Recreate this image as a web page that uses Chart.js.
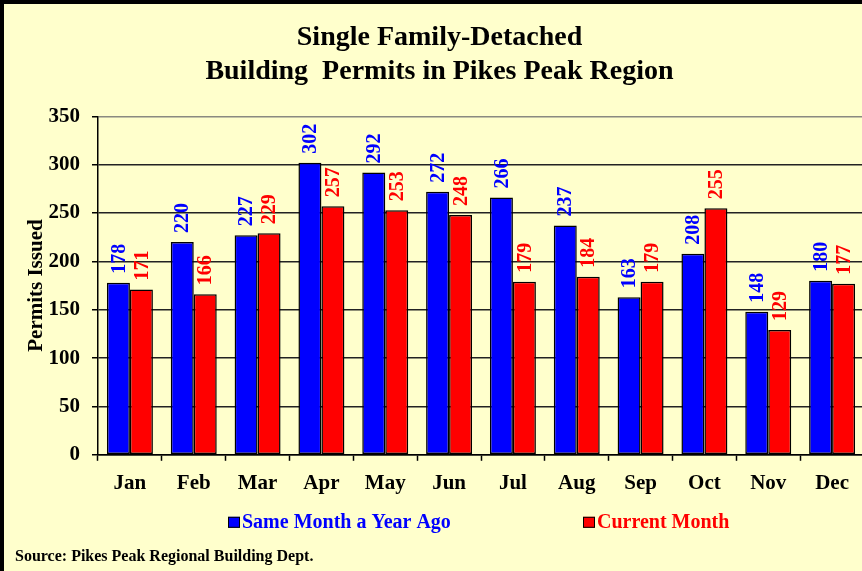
<!DOCTYPE html>
<html>
<head>
  <title>Single Family-Detached Building Permits</title>
  <script src="https://cdn.jsdelivr.net/npm/chart.js"></script>
  <style>
    body { margin: 0; overflow: hidden; background: #FFFFCC; }
    #frame { position: absolute; left: 0; top: 0; width: 876px; height: 580px; border: 4px solid #000; background: #FFFFCC; }
  </style>
</head>
<body>
  <div id="frame">
    <canvas id="permitChart" width="876" height="580"></canvas>
  </div>

  <script>
    const months = ["Jan", "Feb", "Mar", "Apr", "May", "Jun", "Jul", "Aug", "Sep", "Oct", "Nov", "Dec"];
    const yearAgo = [178, 220, 227, 302, 292, 272, 266, 237, 163, 208, 148, 180];
    const currentMonth = [171, 166, 229, 257, 253, 248, 179, 184, 179, 255, 129, 177];
    const yTicks = [0, 50, 100, 150, 200, 250, 300, 350];

    const serif = "'Liberation Serif', 'Times New Roman', serif";

    // value labels, rotated, above each bar
    const barValues = {
      id: 'barValues',
      afterDatasetsDraw(chart) {
        const ctx = chart.ctx;
        chart.data.datasets.forEach((ds, i) => {
          const meta = chart.getDatasetMeta(i);
          meta.data.forEach((bar, j) => {
            ctx.save();
            ctx.translate(bar.x, bar.y - 9);
            ctx.rotate(-Math.PI / 2);
            ctx.font = "bold 20px " + serif;
            ctx.fillStyle = ds.backgroundColor;
            ctx.textAlign = 'left';
            ctx.textBaseline = 'middle';
            ctx.fillText(ds.data[j], 0, 1);
            ctx.restore();
          });
        });
      }
    };

    // legend with wide gap between the two entries
    const wideLegend = {
      id: 'wideLegend',
      afterDraw(chart) {
        const ctx = chart.ctx;
        const area = chart.chartArea;
        const mid = (area.left + area.right) / 2;
        const y = area.bottom + 68;
        const starts = [mid - 253, mid + 102];
        chart.data.datasets.forEach((ds, i) => {
          const x = starts[i];
          ctx.save();
          ctx.fillStyle = ds.backgroundColor;
          ctx.fillRect(x, y - 6, 12, 11);
          ctx.strokeStyle = '#000';
          ctx.lineWidth = 1;
          ctx.strokeRect(x + 0.5, y - 5.5, 11, 10);
          ctx.font = "bold 20px " + serif;
          ctx.textAlign = 'left';
          ctx.textBaseline = 'middle';
          ctx.fillText(ds.label, x + 14, y);
          ctx.restore();
        });
      }
    };

    new Chart(document.getElementById("permitChart"), {
      type: 'bar',
      data: {
        labels: months,
        datasets: [
          {
            label: 'Same Month a Year Ago',
            data: yearAgo,
            backgroundColor: '#0000FF',
            borderColor: '#000',
            borderWidth: 1.5,
            borderSkipped: false,
            categoryPercentage: 0.72,
            barPercentage: 1.0
          },
          {
            label: 'Current Month',
            data: currentMonth,
            backgroundColor: '#FF0000',
            borderColor: '#000',
            borderWidth: 1.5,
            borderSkipped: false,
            categoryPercentage: 0.72,
            barPercentage: 1.0
          }
        ]
      },
      options: {
        responsive: false,
        animation: false,
        devicePixelRatio: 1,
        layout: { padding: { left: 11, right: 16, top: 0, bottom: 0 } },
        plugins: {
          legend: { display: false },
          tooltip: { enabled: false },
          title: {
            display: true,
            text: ["Single Family-Detached", "Building  Permits in Pikes Peak Region"],
            color: '#000',
            font: { family: serif, size: 28, weight: 'bold', lineHeight: 1.22 },
            padding: { top: 17, bottom: 27 }
          },
          subtitle: {
            display: true,
            position: 'bottom',
            align: 'start',
            text: "Source: Pikes Peak Regional Building Dept.",
            color: '#000',
            font: { family: serif, size: 16, weight: 'bold', lineHeight: 1.2 },
            padding: { top: 32, bottom: 18 }
          }
        },
        scales: {
          x: {
            afterFit(scale) { scale.height = 60; },
            grid: {
              offset: true,
              drawOnChartArea: false,
              tickLength: 6,
              tickColor: '#000',
              tickWidth: 1.5
            },
            border: { color: '#000', width: 1.5 },
            ticks: {
              color: '#000',
              padding: 10,
              font: { family: serif, size: 21, weight: 'bold' }
            }
          },
          y: {
            min: 0,
            max: 350,
            afterFit(scale) { scale.width = 83; },
            afterBuildTicks(scale) { scale.ticks = yTicks.map(v => ({ value: v })); },
            grid: {
              color: ctx => ctx.tick && ctx.tick.value === 350 ? '#8a8a80' : '#222',
              lineWidth: 1.5,
              tickLength: 6,
              tickColor: '#000'
            },
            border: { color: '#000', width: 1.5 },
            ticks: {
              color: '#000',
              padding: 12,
              font: { family: serif, size: 21, weight: 'bold' }
            },
            title: {
              display: true,
              text: 'Permits Issued',
              color: '#000',
              padding: { top: 9, bottom: 0 },
              font: { family: serif, size: 21, weight: 'bold' }
            }
          }
        }
      },
      plugins: [barValues, wideLegend]
    });
  </script>
</body>
</html>
